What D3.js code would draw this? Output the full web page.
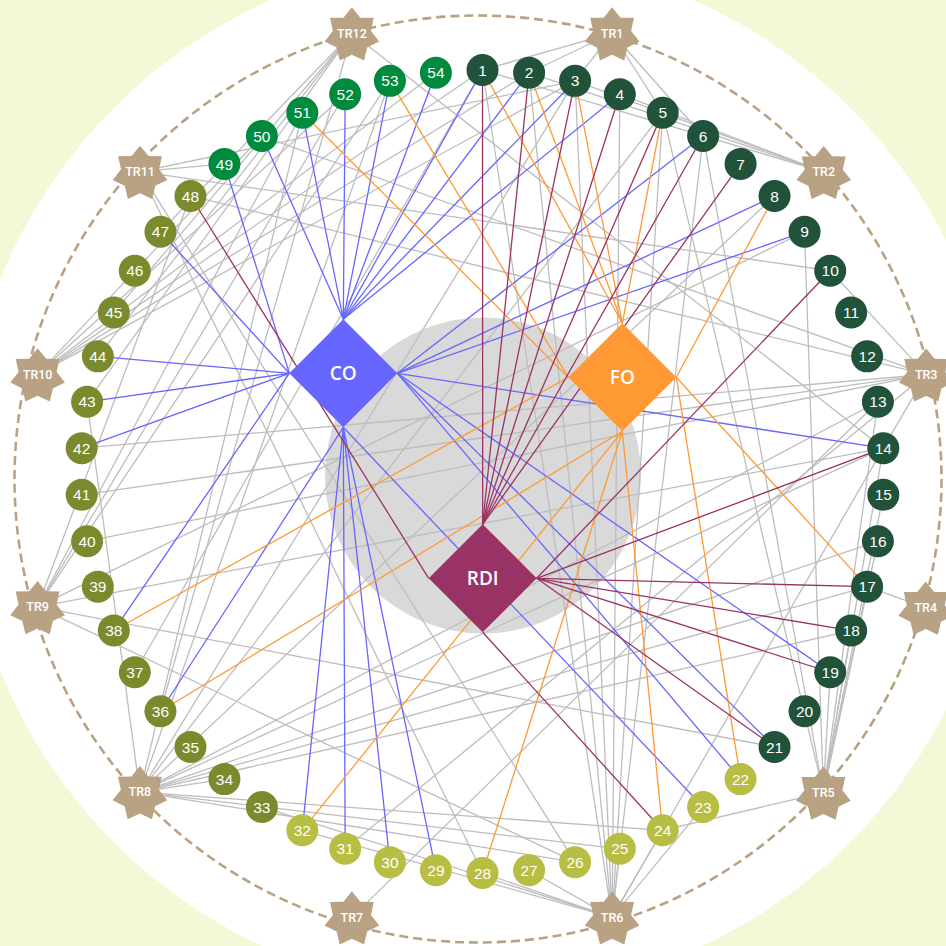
<!DOCTYPE html>
<html><head><meta charset="utf-8">
<script src="https://cdn.jsdelivr.net/npm/d3@7"></script>
<style>html,body{margin:0;padding:0;background:#f4f8d6;} svg{display:block}</style>
</head><body><svg id="chart" width="946" height="946"></svg>
<script>
// ---------------- DATA ----------------
const ringNodes      = d3.range(1, 55);
const darkGreenNodes = d3.range(1, 22);
const limeNodes      = d3.range(22, 33);
const oliveNodes     = d3.range(33, 49);
const greenNodes     = d3.range(49, 55);
const trNames = ["TR1","TR2","TR3","TR4","TR5","TR6","TR7","TR8","TR9","TR10","TR11","TR12"];
const hubNames = ["CO","FO","RDI"];

// hub links: [ring node, hub side]
const coLinks  = [[50,"T"],[51,"T"],[52,"T"],[53,"T"],[54,"T"],[1,"T"],[2,"T"],[3,"T"],[4,"T"],
                  [6,"R"],[8,"R"],[9,"R"],[14,"R"],[19,"R"],[21,"R"],[22,"R"],
                  [23,"B"],[29,"B"],[30,"B"],[31,"B"],[32,"B"],[36,"B"],
                  [38,"L"],[42,"L"],[43,"L"],[44,"L"],[47,"L"],[49,"L"]];
const foLinks  = [[1,"T"],[2,"T"],[3,"T"],[5,"T"],[8,"R"],[17,"R"],[22,"R"],
                  [24,"B"],[28,"B"],[32,"B"],[36,"B"],[38,"L"],[51,"L"],[53,"L"]];
const rdiLinks = [[1,"T"],[2,"T"],[3,"T"],[4,"T"],[5,"T"],[6,"T"],[7,"T"],
                  [10,"R"],[14,"R"],[17,"R"],[18,"R"],[19,"R"],[21,"R"],[24,"B"],[48,"L"]];

// grey links from each TR to ring nodes
const tr1Links  = [1, 2, 3, 5, 6];
const tr2Links  = [1, 2, 3, 4];
const tr3Links  = [10, 14, 40, 41, 42, 48, 50, 31];
const tr4Links  = [17];
const tr5Links  = [5, 6, 9, 13, 14, 15, 16, 17, 18, 19, 24];
const tr6Links  = [1, 2, 3, 4, 5, 6, 14, 23, 24, 25, 27, 28, 32, 33];
const tr7Links  = [13];
const tr8Links  = [3, 5, 8, 13, 14, 16, 17, 18, 24, 25, 26, 34, 43, 51, 53];
const tr9Links  = [9, 14, 21, 26, 48, 51, 52, 53];
const tr10Links = [1, 2, 3, 50, 52, 54];
const tr11Links = [3, 10, 26, 28, 49];
const tr12Links = [14, 36, 43, 44, 45, 47];
const nodeNodeLinks = [[37, 1]];

// ---------------- LAYOUT ----------------
const W = 946, H = 946;
const cx = 482.5, cy = 471.5, ringR = 401.5;
const trCx = 482, trCy = 475.3;
const trAngle  = [16.4, 48.4, 77.2, 106.6, 132.9, 163.6, 196.4, 227.2, 253.5, 282.8, 311.6, 343.6];
const trRadius = [460.8, 457, 455.5, 463, 466, 460.8, 460.8, 466.3, 463.5, 455.7, 457.3, 460.8];
const hubPos = {CO:[343.3, 373.3], FO:[622.3, 377.3], RDI:[482.7, 578.3]};
const hubHalf = 54;
const nodeR = 16;

const colors = {
  darkGreen:"#21523a", lime:"#b8bd43", olive:"#7b8a2d", green:"#008a3d",
  star:"#b9a283", grey:"#bdbdbd", CO:"#6666ff", FO:"#ff9933", RDI:"#993366"
};

const svg = d3.select("#chart");

const angleScale = d3.scaleLinear().domain([1, 55]).range([0, 360]);
const rad = d => d * Math.PI / 180;
const pos = {};
ringNodes.forEach(n => {
  const a = rad(angleScale(n));
  pos[n] = [cx + ringR * Math.sin(a), cy - ringR * Math.cos(a)];
});
trNames.forEach((t, i) => {
  const a = rad(trAngle[i]);
  pos[t] = [trCx + trRadius[i] * Math.sin(a), trCy - trRadius[i] * Math.cos(a)];
});

function nodeColor(n) {
  if (darkGreenNodes.includes(n)) return colors.darkGreen;
  if (limeNodes.includes(n)) return colors.lime;
  if (oliveNodes.includes(n)) return colors.olive;
  return colors.green;
}
function hubPort(h, side) {
  const [x, y] = hubPos[h];
  if (side === "T") return [x, y - hubHalf];
  if (side === "B") return [x, y + hubHalf];
  if (side === "L") return [x - hubHalf, y];
  return [x + hubHalf, y];
}

// ---------------- BACKGROUND ----------------
svg.append("rect").attr("width", W).attr("height", H).attr("fill", "#f4f8d6");
svg.append("circle").attr("cx", 482).attr("cy", 475).attr("r", 520).attr("fill", "#ffffff");
svg.append("circle").attr("cx", 478).attr("cy", 479).attr("r", 463.5)
  .attr("fill", "none").attr("stroke", colors.star).attr("stroke-width", 2.6)
  .attr("stroke-dasharray", "9,5");
svg.append("circle").attr("cx", 483).attr("cy", 475.5).attr("r", 158).attr("fill", "#d9d9d9");

// ---------------- GREY LINKS ----------------
const trLinkLists = [tr1Links, tr2Links, tr3Links, tr4Links, tr5Links, tr6Links,
                     tr7Links, tr8Links, tr9Links, tr10Links, tr11Links, tr12Links];
const greyLinks = [];
trLinkLists.forEach((list, i) => list.forEach(n => greyLinks.push([trNames[i], n])));
nodeNodeLinks.forEach(l => greyLinks.push(l));

svg.append("g").selectAll("line").data(greyLinks).join("line")
  .attr("x1", d => pos[d[0]][0]).attr("y1", d => pos[d[0]][1])
  .attr("x2", d => pos[d[1]][0]).attr("y2", d => pos[d[1]][1])
  .attr("stroke", colors.grey).attr("stroke-width", 1.3);

// ---------------- HUB LINKS ----------------
const hubLinks = [];
coLinks.forEach(l => hubLinks.push({hub:"CO", node:l[0], side:l[1]}));
foLinks.forEach(l => hubLinks.push({hub:"FO", node:l[0], side:l[1]}));
rdiLinks.forEach(l => hubLinks.push({hub:"RDI", node:l[0], side:l[1]}));

svg.append("g").selectAll("line").data(hubLinks).join("line")
  .attr("x1", d => pos[d.node][0]).attr("y1", d => pos[d.node][1])
  .attr("x2", d => hubPort(d.hub, d.side)[0]).attr("y2", d => hubPort(d.hub, d.side)[1])
  .attr("stroke", d => colors[d.hub]).attr("stroke-width", 1.3);

// ---------------- HUB DIAMONDS ----------------
const hubG = svg.append("g").selectAll("g").data(hubNames).join("g")
  .attr("transform", d => `translate(${hubPos[d][0]},${hubPos[d][1]})`);
hubG.append("path")
  .attr("d", `M0,${-hubHalf}L${hubHalf},0L0,${hubHalf}L${-hubHalf},0Z`)
  .attr("fill", d => colors[d]);
hubG.append("text").text(d => d)
  .attr("text-anchor", "middle").attr("dy", "0.36em")
  .attr("fill", "#fff").attr("font-family", "'Open Sans', sans-serif")
  .attr("font-size", 19).attr("font-weight", 600);

// ---------------- RING NODES ----------------
const ng = svg.append("g").selectAll("g").data(ringNodes).join("g")
  .attr("transform", d => `translate(${pos[d][0]},${pos[d][1]})`);
ng.append("circle").attr("r", nodeR).attr("fill", d => nodeColor(d));
ng.append("text").text(d => d)
  .attr("text-anchor", "middle").attr("dy", "0.36em")
  .attr("fill", "#fff").attr("font-family", "'Liberation Sans', Arial, sans-serif")
  .attr("font-size", 15.5);

// ---------------- TR STARS ----------------
const starR = 28, starInner = 19.5;
const starPts = d3.range(14).map(k => [k * Math.PI / 7, k % 2 ? starInner : starR]);
const starPath = d3.lineRadial().angle(d => d[0]).radius(d => d[1]).curve(d3.curveLinearClosed)(starPts);
const tg = svg.append("g").selectAll("g").data(trNames).join("g")
  .attr("transform", d => `translate(${pos[d][0]},${pos[d][1] + 2})`);
tg.append("path").attr("d", starPath).attr("fill", colors.star);
tg.append("text").text(d => d)
  .attr("text-anchor", "middle").attr("dy", "0.35em").attr("y", -2)
  .attr("fill", "#fff").attr("font-family", "Roboto, sans-serif")
  .attr("font-size", 12.5).attr("font-weight", 500);
</script></body></html>
